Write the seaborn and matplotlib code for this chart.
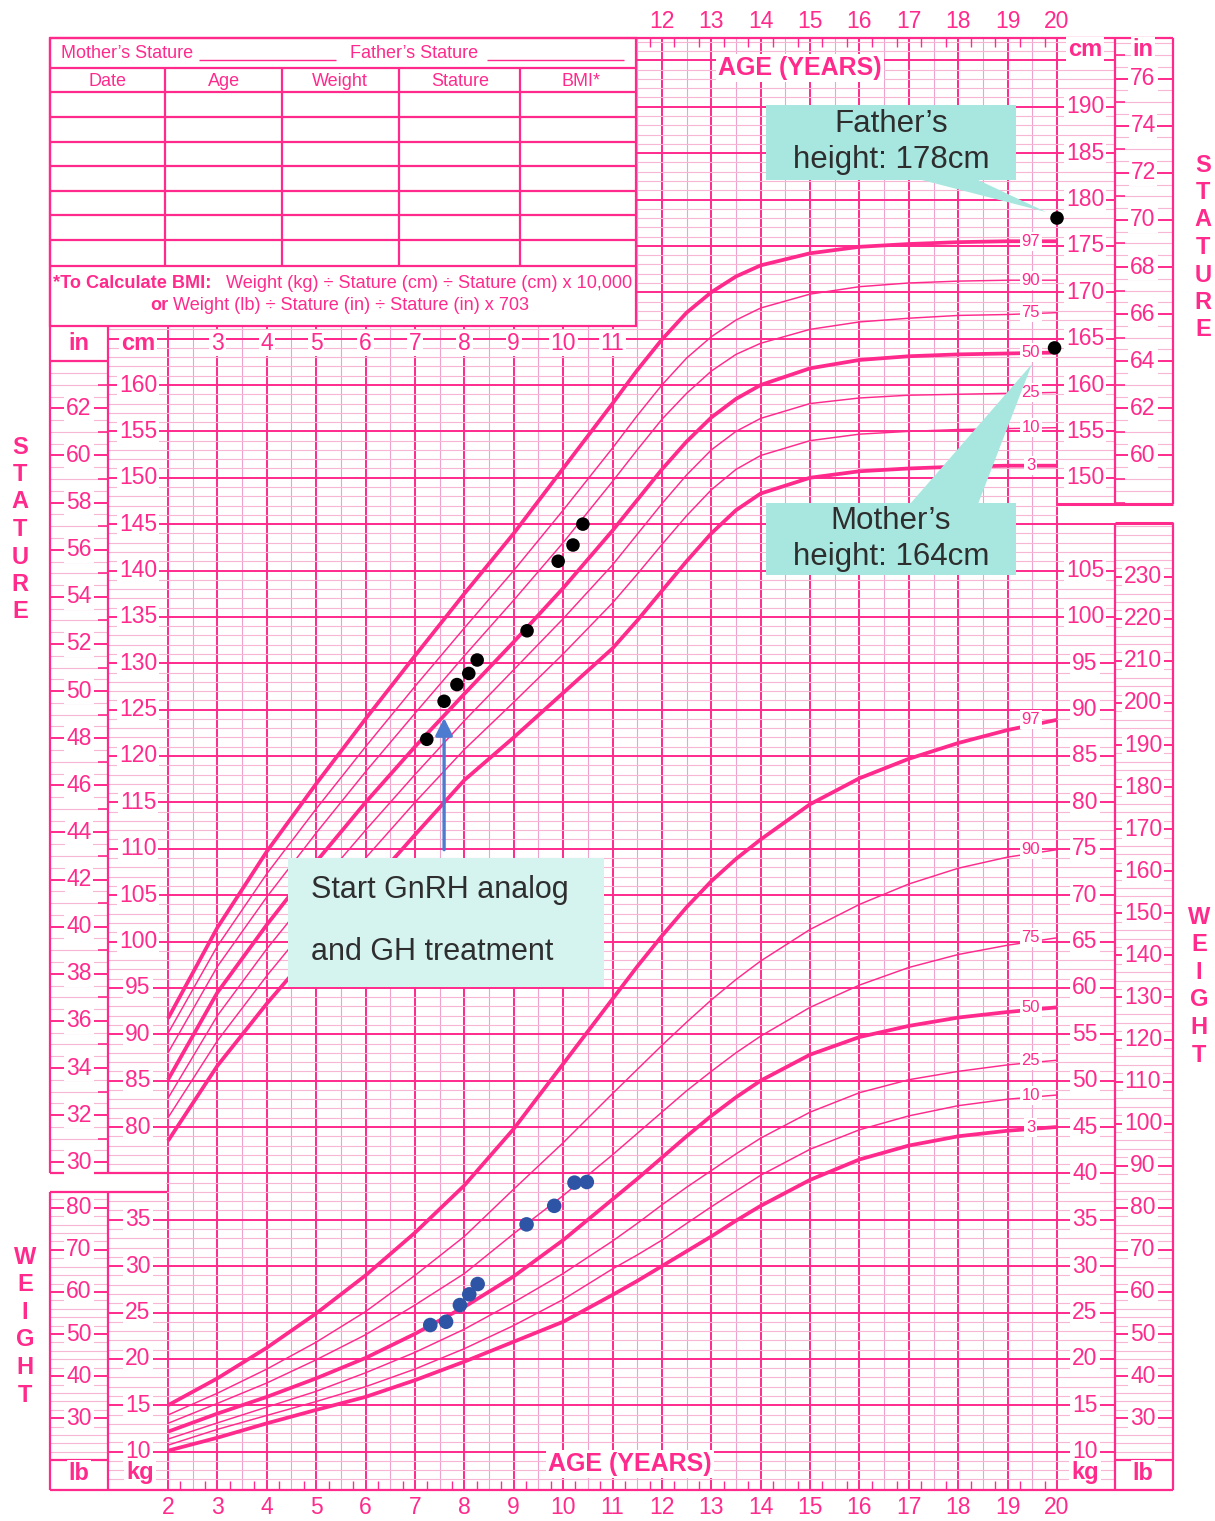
import matplotlib
matplotlib.use('agg')
import matplotlib.pyplot as plt
from matplotlib.patches import Rectangle, Polygon
import seaborn as sns
import numpy as np

# ---------------- data ----------------
ages = [2, 3, 4, 5, 6, 7, 8, 9, 10, 11, 11.5, 12, 12.5, 13, 13.5, 14,
        15, 16, 17, 18, 19, 20]

# stature percentiles (cm)
stat_p3 = [78.5, 86.6, 93.3, 99.5, 105.5, 111.5, 117.4, 122.0, 126.8, 131.6, 134.6,
           137.8, 141.0, 144.0, 146.5, 148.3, 150.0, 150.7, 151.0, 151.2, 151.3, 151.3]
stat_p10 = [81.0, 89.3, 96.3, 102.8, 109.0, 115.0, 120.7, 125.8, 131.0, 136.5, 139.6,
            142.8, 145.9, 148.7, 150.9, 152.4, 154.0, 154.7, 155.0, 155.2, 155.3, 155.4]
stat_p25 = [83.1, 92.0, 99.2, 105.8, 112.0, 118.0, 123.8, 129.3, 134.8, 140.6, 143.9,
            147.2, 150.3, 153.0, 155.0, 156.4, 158.0, 158.6, 158.9, 159.0, 159.1, 159.2]
stat_p50 = [85.1, 94.5, 101.8, 108.6, 115.0, 121.0, 126.7, 132.3, 138.1, 144.3, 147.6,
            150.9, 153.9, 156.5, 158.5, 160.0, 161.8, 162.7, 163.1, 163.3, 163.4, 163.5]
stat_p75 = [88.0, 97.3, 104.8, 111.7, 118.3, 124.6, 130.8, 136.8, 143.0, 149.6, 153.0,
            156.3, 159.1, 161.5, 163.3, 164.5, 166.0, 166.8, 167.2, 167.5, 167.6, 167.8]
stat_p90 = [90.1, 99.5, 107.3, 114.3, 121.0, 127.5, 133.8, 140.0, 146.5, 153.2, 156.7,
            160.0, 162.9, 165.2, 167.0, 168.3, 169.8, 170.6, 171.0, 171.2, 171.3, 171.3]
stat_p97 = [91.7, 101.5, 109.7, 117.0, 124.0, 130.8, 137.5, 144.0, 151.0, 158.0, 161.6,
            164.9, 167.8, 170.0, 171.7, 172.9, 174.2, 174.9, 175.2, 175.4, 175.5, 175.5]

# weight percentiles (kg)
wt_p3 = [10.1, 11.5, 13.05, 14.5, 15.9, 17.7, 19.7, 21.85, 24.0, 26.9, 28.4,
         30.0, 31.6, 33.2, 34.9, 36.5, 39.3, 41.5, 43.0, 44.0, 44.6, 45.0]
wt_p10 = [10.7, 12.4, 13.9, 15.4, 17.0, 18.9, 21.1, 23.6, 26.4, 29.7, 31.2,
          32.8, 34.6, 36.4, 38.1, 39.8, 42.6, 44.7, 46.2, 47.3, 48.0, 48.45]
wt_p25 = [11.35, 13.1, 14.8, 16.5, 18.5, 20.7, 23.2, 26.1, 29.2, 32.7, 34.6,
          36.6, 38.5, 40.3, 42.1, 43.8, 46.6, 48.7, 50.1, 51.0, 51.7, 52.2]
wt_p50 = [12.15, 14.1, 15.9, 17.9, 20.1, 22.7, 25.6, 28.9, 32.8, 37.2, 39.4,
          41.7, 44.0, 46.2, 48.2, 50.0, 52.8, 54.7, 55.9, 56.8, 57.4, 57.9]
wt_p75 = [13.05, 15.2, 17.4, 19.9, 22.6, 25.8, 29.2, 33.5, 37.6, 42.0, 44.3,
          46.6, 48.9, 51.0, 53.0, 54.8, 57.9, 60.3, 62.2, 63.6, 64.6, 65.4]
wt_p90 = [13.95, 16.3, 18.9, 21.8, 25.1, 29.0, 33.2, 38.3, 43.3, 48.6, 51.2,
          53.8, 56.3, 58.7, 60.9, 62.9, 66.3, 69.0, 71.2, 72.9, 74.1, 74.9]
wt_p97 = [15.0, 17.9, 21.2, 24.9, 29.0, 33.6, 38.7, 44.8, 51.8, 58.8, 62.3,
          65.6, 68.7, 71.5, 73.9, 76.0, 79.8, 82.6, 84.7, 86.4, 87.8, 88.9]

pct_names = ['3', '10', '25', '50', '75', '90', '97']
thick_pcts = ['3', '50', '97']

# patient measurements
pt_stat_age = [7.24, 7.59, 7.85, 8.09, 8.26, 9.27, 9.90, 10.20, 10.40]
pt_stat_cm = [121.8, 125.9, 127.7, 128.9, 130.35, 133.5, 141.0, 142.75, 145.0]
pt_wt_age = [7.31, 7.63, 7.91, 8.10, 8.27, 9.26, 9.82, 10.23, 10.48]
pt_wt_kg = [23.65, 24.0, 25.8, 26.96, 28.07, 34.5, 36.5, 39.0, 39.07]

parent_age = [20.0, 19.95]
parent_cm = [178.0, 164.0]
father_txt = 'Father\u2019s\nheight: 178cm'
mother_txt = 'Mother\u2019s\nheight: 164cm'
treat_txt = 'Start GnRH analog\n\nand GH treatment'

# ---------------- style ----------------
PINK = '#ff2a8c'
LIGHT = '#f7b6d4'
MIDP = '#eda3cc'
BLUE = '#2e55a5'

sns.set_style('white')
plt.rcParams['font.family'] = ['Liberation Sans', 'DejaVu Sans']

# pixel <-> value mapping of the printed chart
PX_AGE2, PX_YR = 168.0, 49.39
PY_80, PX_CM = 1127.0, 9.275


def X(px):
    return 2 + (px - PX_AGE2) / PX_YR


def Y(py):
    return 80 + (PY_80 - py) / PX_CM


def px_age(a):
    return PX_AGE2 + (a - 2) * PX_YR


def py_cm(c):
    return PY_80 - (c - 80) * PX_CM


def py_kg(k):
    return py_cm(k + 35)


fig = plt.figure(figsize=(12.15, 15.21), dpi=100)
fig.patch.set_facecolor('white')

ax = fig.add_axes([0, 0, 1, 1])          # stature, cm
ax_w = fig.add_axes([0, 0, 1, 1])        # weight, kg (same grid, offset 35)
ax_o = fig.add_axes([0, 0, 1, 1])        # print layout overlay, pixels

# ---------------- grid (in cm / age units) ----------------
ytop, ybot = Y(38), Y(1490)
for a in np.arange(2, 20.01, 0.5):
    major = float(a).is_integer()
    ax.vlines(a, ybot, ytop, color=PINK if major else MIDP,
              lw=1.4 if major else 0.8, zorder=1)
for c in range(int(np.ceil(ybot)), int(np.floor(ytop)) + 1):
    major = c % 5 == 0
    ax.hlines(c, X(108), X(1115), color=PINK if major else LIGHT,
              lw=1.4 if major else 0.8, zorder=1 if not major else 1.2)

# ---------------- percentile curves ----------------
stat_curves = [stat_p3, stat_p10, stat_p25, stat_p50, stat_p75, stat_p90, stat_p97]
wt_curves = [wt_p3, wt_p10, wt_p25, wt_p50, wt_p75, wt_p90, wt_p97]

for name, vals in zip(pct_names, stat_curves):
    lw = 2.7 if name in thick_pcts else 1.05
    sns.lineplot(x=ages, y=vals, ax=ax, color=PINK, lw=lw, zorder=3,
                 solid_capstyle='butt')
    ax.text(19.47, vals[-1], name, fontsize=12, color=PINK, ha='center',
            va='center', zorder=4,
            bbox=dict(boxstyle='square,pad=0.12', fc='white', ec='none'))

for name, vals in zip(pct_names, wt_curves):
    lw = 2.7 if name in thick_pcts else 1.05
    sns.lineplot(x=ages, y=vals, ax=ax_w, color=PINK, lw=lw, zorder=3,
                 solid_capstyle='butt')
    ax_w.text(19.47, vals[-1], name, fontsize=12, color=PINK, ha='center',
              va='center', zorder=4,
              bbox=dict(boxstyle='square,pad=0.12', fc='white', ec='none'))

# patient points
sns.scatterplot(x=pt_stat_age, y=pt_stat_cm, ax=ax, color='black', s=95,
                edgecolor='none', zorder=5)
sns.scatterplot(x=parent_age, y=parent_cm, ax=ax, color='black', s=95,
                edgecolor='none', zorder=7)
sns.scatterplot(x=pt_wt_age, y=pt_wt_kg, ax=ax_w, color=BLUE, s=110,
                edgecolor='none', zorder=5)

# treatment arrow points at the second stature measurement
ax.annotate('', xy=(pt_stat_age[1], pt_stat_cm[1] - 1.8),
            xytext=(pt_stat_age[1], pt_stat_cm[1] - 16.0),
            arrowprops=dict(arrowstyle='-|>', color='#4d7bd0', lw=2.4,
                            mutation_scale=26, shrinkA=0, shrinkB=0),
            zorder=6)

for a in (ax, ax_w):
    a.set_xlim(X(0), X(1215))
    a.axis('off')
    a.patch.set_alpha(0)
ax.set_ylim(Y(1521), Y(0))
ax_w.set_ylim(Y(1521) - 35, Y(0) - 35)

# ---------------- print layout (pixel overlay) ----------------
ax_o.set_xlim(0, 1215)
ax_o.set_ylim(1521, 0)
ax_o.axis('off')
ax_o.patch.set_alpha(0)


def line(x0, y0, x1, y1, color=PINK, lw=1.6, z=5):
    ax_o.plot([x0, x1], [y0, y1], color=color, lw=lw, zorder=z,
              solid_capstyle='butt')


def white(x0, y0, x1, y1, z=2):
    ax_o.add_patch(Rectangle((x0, y0), x1 - x0, y1 - y0, fc='white',
                             ec='none', zorder=z))


def label(x, y, s, size=16.5, weight='normal', z=6, bg=True):
    kw = dict(fontsize=size, color=PINK, ha='center', va='center',
              fontweight=weight, zorder=z)
    if bg:
        kw['bbox'] = dict(boxstyle='square,pad=0.08', fc='white', ec='none')
    ax_o.text(x, y, s, **kw)


# white areas of the side columns / gaps
white(50, 326, 108, 1173)
white(50, 1192, 108, 1490)
white(1115, 38, 1173, 504)
white(1115, 523, 1173, 1490)
white(50, 1173, 166, 1192)
white(1058, 504, 1173, 523)

# inch columns
for v in np.arange(29.5, 64.01, 0.5):
    py = py_cm(v * 2.54)
    if 361 < py < 1173:
        if v % 2 == 0 and 30 <= v <= 62:
            line(50, py, 108, py, lw=1.4, z=3)
            label(79, py, f'{int(v)}')
        else:
            line(50, py, 108, py, color=LIGHT, lw=0.8, z=3)
            if v % 1 == 0:
                line(98, py, 108, py, lw=1.2, z=3)
for v in np.arange(57.5, 78.01, 0.5):
    py = py_cm(v * 2.54)
    if 38 < py < 504:
        if v % 2 == 0 and 60 <= v <= 76:
            line(1115, py, 1173, py, lw=1.4, z=3)
            label(1143, py, f'{int(v)}')
        else:
            line(1115, py, 1173, py, color=LIGHT, lw=0.8, z=3)
            if v % 1 == 0:
                line(1115, py, 1125, py, lw=1.2, z=3)

# pound columns
for lb in range(20, 246, 2):
    py = py_kg(lb * 0.45359237)
    if 1192 < py < 1460 and lb <= 86:
        if lb % 10 == 0 and 30 <= lb <= 80:
            line(50, py, 108, py, lw=1.4, z=3)
            label(79, py, f'{lb}')
        else:
            line(50, py, 108, py, color=LIGHT, lw=0.8, z=3)
    if 523 < py < 1460:
        if lb % 10 == 0 and 30 <= lb <= 230:
            line(1115, py, 1173, py, lw=1.4, z=3)
            label(1143, py, f'{lb}')
        else:
            line(1115, py, 1173, py, color=LIGHT, lw=0.8, z=3)

# cm / kg labels
for c in range(80, 161, 5):
    label(138, py_cm(c), f'{c}')
for k in range(10, 36, 5):
    label(138, py_kg(k), f'{k}')
for c in range(150, 191, 5):
    label(1085, py_cm(c), f'{c}')
for k in range(10, 106, 5):
    label(1085, py_kg(k), f'{k}')

# age labels
for a in range(2, 21):
    label(px_age(a), 1508, f'{a}', bg=False)
for a in range(12, 21):
    label(px_age(a), 22, f'{a}', bg=False)
for a in range(3, 12):
    label(px_age(a), 343, f'{a}')
line(167, py_cm(165), 636, py_cm(165), lw=1.4, z=3)

# quarter-year ticks on top and bottom borders
for a in np.arange(2.25, 20, 0.5):
    line(px_age(a), 1481, px_age(a), 1490, lw=1.0, z=3)
    line(px_age(a), 38, px_age(a), 47, lw=1.0, z=3)

# frames
line(50, 38, 1173, 38)
line(50, 1490, 1173, 1490)
line(50, 38, 50, 1173)
line(50, 1192, 50, 1490)
line(1173, 38, 1173, 504)
line(1173, 523, 1173, 1490)
line(108, 326, 108, 1173)
line(108, 1192, 108, 1490)
line(1115, 38, 1115, 504)
line(1115, 523, 1115, 1490)
line(50, 1173, 167, 1173)
line(50, 1192, 167, 1192)
line(1057, 504, 1173, 504, lw=2.2)
line(1115, 523, 1173, 523, lw=2.2)
line(50, 361, 108, 361)
line(50, 1460, 108, 1460)
line(1115, 1460, 1173, 1460)

# headers of the columns
label(79, 343, 'in', size=17, weight='bold')
label(138, 343, 'cm', size=17, weight='bold')
label(1085, 50, 'cm', size=17, weight='bold')
label(1143, 50, 'in', size=17, weight='bold')
label(79, 1473, 'lb', size=17, weight='bold')
label(140, 1473, 'kg', size=17, weight='bold')
label(1085, 1473, 'kg', size=17, weight='bold')
label(1143, 1473, 'lb', size=17, weight='bold')
label(800, 68, 'AGE (YEARS)', size=18, weight='bold')
label(630, 1464, 'AGE (YEARS)', size=18, weight='bold')

for i, ch in enumerate('STATURE'):
    label(20, 447 + i * 27.5, ch, size=17, weight='bold', bg=False)
    label(1203, 165 + i * 27.5, ch, size=17, weight='bold', bg=False)
for i, ch in enumerate('WEIGHT'):
    label(25, 1257 + i * 27.6, ch, size=17, weight='bold', bg=False)
    label(1199, 917 + i * 27.6, ch, size=17, weight='bold', bg=False)

# record table
ax_o.add_patch(Rectangle((50, 38), 586, 288, fc='white', ec=PINK, lw=1.6,
                         zorder=4))
for yy in [67.7, 92.3, 117.3, 142, 166, 191, 215.3, 240, 265.7]:
    line(50, yy, 636, yy, z=5)
for xx in [165.3, 282.4, 398.6, 520.4]:
    line(xx, 67.7, xx, 265.7, z=5)
tkw = dict(fontsize=13, color=PINK, va='center', zorder=6)
ax_o.text(61, 53, 'Mother\u2019s Stature', ha='left', **tkw)
ax_o.text(350, 53, 'Father\u2019s Stature', ha='left', **tkw)
line(199, 60, 336, 60, lw=1.0, z=5)
line(487, 60, 624, 60, lw=1.0, z=5)
for xx, s in zip([107, 224, 340, 460, 581], ['Date', 'Age', 'Weight', 'Stature', 'BMI*']):
    ax_o.text(xx, 81, s, ha='center', **tkw)
tkw2 = dict(fontsize=13.1, color=PINK, va='center', zorder=6)
ax_o.text(53, 283, '*To Calculate BMI:', ha='left', fontweight='bold', **tkw2)
ax_o.text(632, 283, 'Weight (kg) \u00f7 Stature (cm) \u00f7 Stature (cm) x 10,000',
          ha='right', **tkw2)
ax_o.text(150, 306, 'or', ha='left', fontweight='bold', **tkw2)
ax_o.text(173, 306, 'Weight (lb) \u00f7 Stature (in) \u00f7 Stature (in) x 703',
          ha='left', **tkw2)

# call-out boxes
CYAN = '#a8e7e0'
ax_o.add_patch(Rectangle((766, 105), 250, 75, fc=CYAN, ec='none', zorder=8))
ax_o.add_patch(Polygon([(918, 179), (976, 179), (1046, 212)], fc=CYAN,
                       ec='none', zorder=8))
ax_o.text(891, 142, father_txt, fontsize=22.5, color='#2e2e2e', ha='center',
          va='center', linespacing=1.25, zorder=9)
ax_o.add_patch(Rectangle((766, 503), 250, 72, fc=CYAN, ec='none', zorder=8))
ax_o.add_patch(Polygon([(910, 504), (978, 504), (1032, 364)], fc=CYAN,
                       ec='none', zorder=8))
ax_o.text(891, 539, mother_txt, fontsize=22.5, color='#2e2e2e', ha='center',
          va='center', linespacing=1.25, zorder=9)
ax_o.add_patch(Rectangle((288, 858), 316, 129, fc='#d5f3ef', ec='none',
                         zorder=8))
ax_o.text(311, 921, treat_txt, fontsize=22, color='#2e2e2e', ha='left',
          va='center', linespacing=1.05, zorder=9)

fig.savefig('out.png', dpi=100, facecolor='white')
